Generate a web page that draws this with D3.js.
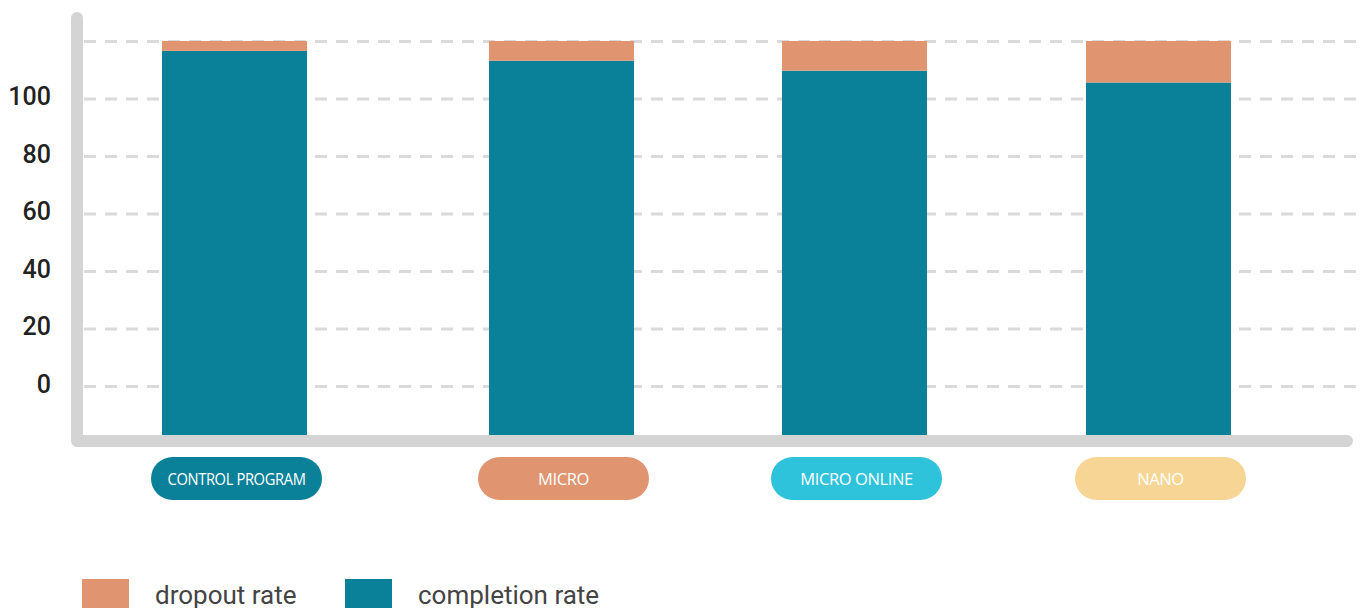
<!DOCTYPE html>
<html>
<head>
<meta charset="utf-8">
<script src="https://cdn.jsdelivr.net/npm/d3@7"></script>
<style>
  html, body { margin: 0; padding: 0; background: #ffffff; }
  svg { display: block; }
</style>
</head>
<body>
<svg id="chart" width="1363" height="608"></svg>
<script>
// Programme categories and their completion / dropout shares (percent)
const categories = ["CONTROL PROGRAM", "MICRO", "MICRO ONLINE", "NANO"];
const completionRate = [97.5, 95, 92.5, 89.5];
const dropoutRate = [2.5, 5, 7.5, 10.5];
const tickValues = [0, 20, 40, 60, 80, 100, 120];
const tickLabels = ["0", "20", "40", "60", "80", "100", ""];
const seriesNames = ["dropout rate", "completion rate"];

const colors = {
  completion: "#0b8199",
  dropout: "#e09470",
  axis: "#d4d4d4",
  grid: "#dadada",
  tick: "#222222",
  legend: "#444444"
};
const pillColors = ["#0b8199", "#e09470", "#2ec3db", "#f7d594"];

const svg = d3.select("#chart");

// Category centres along the x axis
const x = d3.scaleOrdinal().domain(categories).range([234.5, 561.5, 854.5, 1158.5]);
const barWidth = 145;

// Axis scale for the gridlines / tick labels
const yAxis = d3.scaleLinear().domain([0, 120]).range([386.5, 41.5]);
// Share scale used by the stacked bars (0–100 %)
const yBar = d3.scaleLinear().domain([0, 100]).range([436, 41]);

// Dashed gridlines
svg.append("g")
  .selectAll("line")
  .data(tickValues)
  .join("line")
  .attr("x1", 84).attr("x2", 1363)
  .attr("y1", d => yAxis(d)).attr("y2", d => yAxis(d))
  .attr("stroke", colors.grid)
  .attr("stroke-width", 3)
  .attr("stroke-dasharray", "12 9");

// Tick labels
svg.append("g")
  .selectAll("text")
  .data(tickValues)
  .join("text")
  .attr("x", 51)
  .attr("y", d => yAxis(d) - 2.5)
  .attr("text-anchor", "end")
  .attr("dominant-baseline", "central")
  .attr("font-family", "Roboto, sans-serif")
  .attr("font-weight", 500)
  .attr("font-size", 25)
  .attr("fill", colors.tick)
  .text((d, i) => tickLabels[i]);

// Stacked bars
const rows = categories.map((c, i) => ({ cat: c, completion: completionRate[i], dropout: dropoutRate[i] }));
const stack = d3.stack().keys(["completion", "dropout"])(rows);
const seriesColor = { completion: colors.completion, dropout: colors.dropout };

svg.append("g")
  .selectAll("g")
  .data(stack)
  .join("g")
  .attr("fill", s => seriesColor[s.key])
  .selectAll("rect")
  .data(s => s)
  .join("rect")
  .attr("x", d => x(d.data.cat) - barWidth / 2)
  .attr("width", barWidth)
  .attr("y", d => yBar(d[1]))
  .attr("height", d => yBar(d[0]) - yBar(d[1]));

// Thick rounded axis frame
svg.append("path")
  .attr("d", "M77,18 L77,441 L1347,441")
  .attr("fill", "none")
  .attr("stroke", colors.axis)
  .attr("stroke-width", 12)
  .attr("stroke-linecap", "round")
  .attr("stroke-linejoin", "round");

// Category pills
const pillW = 171, pillH = 43, pillY = 457, maxLabelW = 138;
const pills = svg.append("g")
  .selectAll("g")
  .data(categories)
  .join("g")
  .attr("transform", d => `translate(${x(d) + 2},${pillY})`);

pills.append("rect")
  .attr("x", -pillW / 2)
  .attr("width", pillW)
  .attr("height", pillH)
  .attr("rx", pillH / 2)
  .attr("fill", (d, i) => pillColors[i]);

pills.append("text")
  .attr("y", pillH / 2)
  .attr("text-anchor", "middle")
  .attr("dominant-baseline", "central")
  .attr("font-family", "'Open Sans', sans-serif")
  .attr("font-size", 16.5)
  .attr("letter-spacing", -0.4)
  .attr("fill", "#ffffff")
  .text(d => d)
  .each(function () {
    // squeeze long labels so they stay inside the pill
    if (this.getComputedTextLength() > maxLabelW) {
      d3.select(this)
        .attr("textLength", maxLabelW)
        .attr("lengthAdjust", "spacingAndGlyphs");
    }
  });

// Legend
const legendItems = [
  { name: seriesNames[0], color: colors.dropout, x: 82 },
  { name: seriesNames[1], color: colors.completion, x: 345 }
];
const legend = svg.append("g")
  .selectAll("g")
  .data(legendItems)
  .join("g")
  .attr("transform", d => `translate(${d.x},579)`);

legend.append("rect")
  .attr("width", 47)
  .attr("height", 32)
  .attr("fill", d => d.color);

legend.append("text")
  .attr("x", 73)
  .attr("y", 24.5)
  .attr("font-family", "Roboto, sans-serif")
  .attr("font-size", 26)
  .attr("fill", colors.legend)
  .text(d => d.name);
</script>
</body>
</html>
